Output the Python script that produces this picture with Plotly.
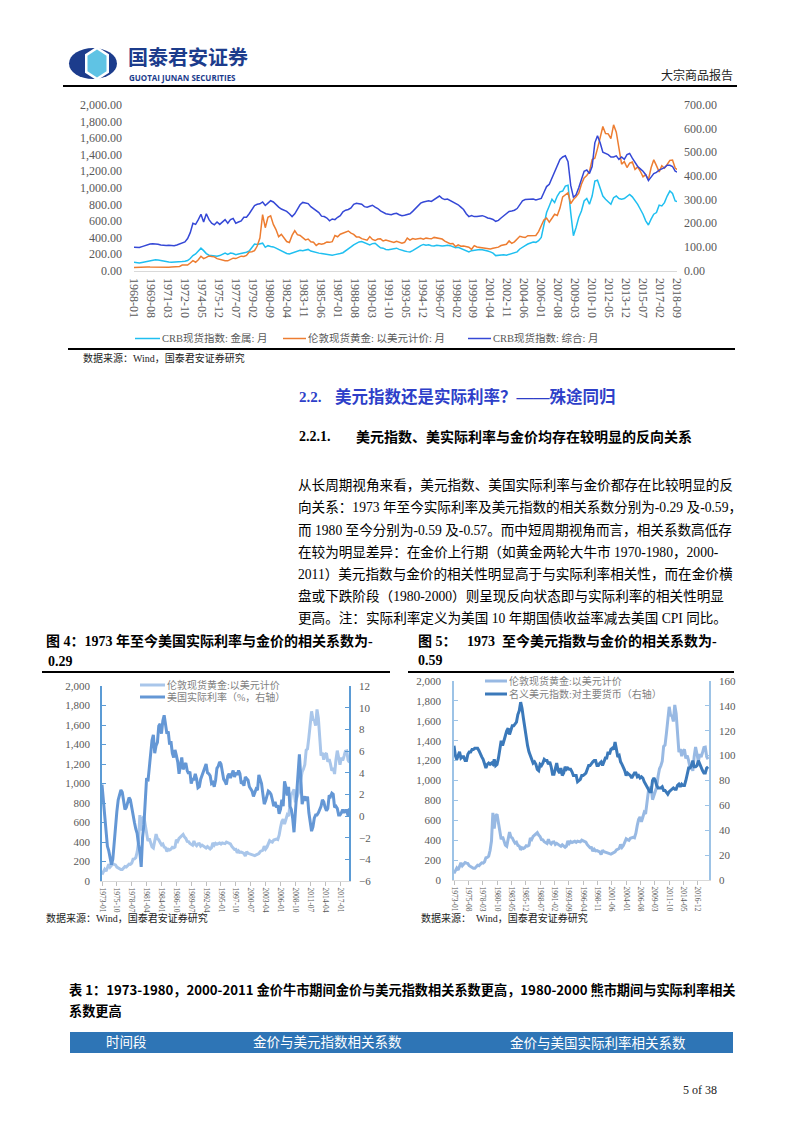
import plotly.graph_objects as go
import pandas as pd

W, H = 802, 1133
def px(x): return x / W
def py(y): return 1 - y / H

SERIF = "Liberation Serif, Noto Sans CJK SC, serif"
CJK = "Noto Sans CJK SC, sans-serif"

# ---------------- DATA (quarterly readings: Jan/Apr/Jul/Oct) ----------------
top_start = "1968-01-01"
gold_q = [
    35, 38, 39, 40,  42, 43, 41, 40,  35, 36, 36, 38,  38, 39, 41, 43,
    46, 49, 65, 64,  66, 91, 120, 100,  130, 172, 143, 158,  176, 170, 165, 143,
    132, 128, 117, 117,  133, 149, 144, 158,  173, 170, 183, 224,  227, 239, 296, 392,
    675, 517, 644, 660,  557, 495, 409, 436,  384, 350, 339, 424,  481, 433, 423, 394,
    370, 380, 348, 341,  303, 325, 317, 326,  345, 340, 348, 423,  408, 438, 450, 468,
    477, 452, 437, 406,  404, 385, 375, 367,  410, 375, 362, 380,  383, 357, 368, 357,
    354, 338, 353, 344,  329, 341, 392, 367,  386, 377, 385, 389,  379, 391, 386, 383,
    400, 393, 383, 380,  355, 344, 324, 325,  289, 309, 293, 296,  287, 282, 256, 300,
    284, 280, 281, 270,  265, 261, 268, 278,  282, 302, 314, 317,  357, 328, 347, 379,
    414, 404, 398, 420,  424, 429, 424, 470,  549, 610, 633, 585,  631, 679, 665, 754,
    889, 910, 940, 807,  858, 890, 934, 1043,  1118, 1148, 1193, 1342,  1356, 1473, 1620, 1740,
    1656, 1651, 1593, 1760,  1671, 1486, 1286, 1316,  1244, 1299, 1311, 1222,  1251, 1199, 1131, 1159,
    1097, 1242, 1337, 1267,  1192, 1266, 1236, 1281,  1331, 1335, 1238, 1215,
]
crb_metal_q = [
    100, 95, 92, 98,  105, 112, 118, 125,  130, 128, 120, 112,  105, 102, 100, 100,
    102, 105, 108, 112,  120, 145, 180, 200,  235, 270, 240, 205,  185, 180, 175, 172,
    180, 200, 210, 195,  210, 205, 190, 200,  205, 210, 220, 235,  280, 320, 315, 320,
    330, 280, 300, 290,  285, 270, 255, 240,  215, 205, 200, 210,  220, 235, 245, 240,
    250, 255, 235, 225,  215, 210, 205, 200,  195, 190, 185, 192,  195, 205, 215, 235,
    260, 285, 310, 330,  345, 350, 335, 320,  310, 325, 330, 300,  275, 270, 255, 250,
    255, 265, 270, 255,  240, 235, 228, 225,  240, 255, 280, 300,  315, 305, 310, 300,
    295, 305, 300, 295,  300, 305, 300, 290,  275, 280, 265, 255,  230, 225, 240, 245,
    255, 255, 250, 245,  235, 225, 210, 180,  185, 190, 190, 185,  195, 200, 210, 225,
    260, 285, 300, 320,  330, 345, 340, 360,  400, 560, 700, 780,  860, 820, 900, 950,
    960, 1020, 1030, 700,  420, 520, 640, 720,  840, 870, 800, 900,  1080, 1090, 1000, 900,
    860, 830, 800, 880,  900, 870, 860, 870,  900, 920, 890, 850,  800, 740, 680, 600,
    550, 620, 680, 700,  790, 780, 820, 900,  960, 930, 840, 830,
]
crb_comp_q = [
    98, 96, 97, 101,  105, 109, 112, 113,  113, 111, 108, 106,  106, 107, 106, 105,
    108, 112, 116, 121,  135, 160, 200, 195,  215, 238, 205, 240,  215, 200, 193, 205,
    195, 205, 215, 200,  215, 220, 200, 205,  210, 225, 225, 240,  260, 275, 280, 282,
    290, 275, 285, 295,  290, 278, 268, 260,  255, 250, 240, 228,  240, 258, 278, 288,
    285, 283, 270, 262,  255, 245, 230, 228,  222, 210, 218, 215,  225, 232, 248, 255,
    258, 265, 280, 284,  282, 280, 270, 268,  272, 276, 268, 262,  252, 245, 240, 238,
    236, 240, 242, 236,  232, 234, 238, 240,  250, 262, 272, 285,  290, 292, 295, 292,
    300, 310, 315, 305,  300, 302, 296, 290,  282, 278, 268, 258,  240, 228, 232, 228,
    228, 230, 232, 228,  222, 220, 216, 208,  212, 222, 230, 240,  250, 252, 255, 262,
    280, 295, 300, 300,  300, 302, 298, 300,  305, 330, 355, 365,  390, 420, 440, 470,
    480, 485, 460, 360,  310, 320, 350, 385,  420, 425, 410, 440,  540, 570, 540, 500,
    495, 490, 480, 480,  485, 470, 480, 470,  490, 495, 475, 455,  440, 430, 420, 405,
    380, 395, 410, 415,  425, 430, 435, 445,  445, 440, 420, 415,
]
top_ticks = ["1968-01", "1969-08", "1971-03", "1972-10", "1974-05", "1975-12", "1977-07",
             "1979-02", "1980-09", "1982-04", "1983-11", "1985-06", "1987-01", "1988-08",
             "1990-03", "1991-10", "1993-05", "1994-12", "1996-07", "1998-02", "1999-09",
             "2001-04", "2002-11", "2004-06", "2006-01", "2007-08", "2009-03", "2010-10",
             "2012-05", "2013-12", "2015-07", "2017-02", "2018-09"]

low_start = "1973-01-01"
gold_low = gold_q[20:]
real_rate_q = [
    2.9, 1.6, 0.0, -1.5,  -2.8, -3.2, -3.8, -4.5,  -4.0, -2.4, -1.2, 0.4,  1.5, 1.9, 2.4, 2.2,
    1.3, 0.6, 0.8, 1.3,  1.7, 1.5, 0.8, -0.2,  -0.6, -1.2, -1.6, -2.6,  -3.3, -4.7, -2.0, -0.8,
    1.5, 3.5, 3.2, 4.6,  5.8, 7.0, 7.5, 5.8,  6.5, 6.8, 8.3, 8.5,  7.6, 8.8, 9.3, 8.3,
    7.6, 7.8, 6.6, 6.9,  5.8, 5.4, 6.1, 5.6,  5.0, 3.9, 4.6, 5.4,  4.3, 4.6, 4.9, 4.2,
    3.9, 4.1, 3.0, 3.4,  3.4, 3.9, 3.4, 2.6,  2.7, 3.4, 3.8, 4.2,  4.6, 4.8, 4.0, 3.9,
    3.7, 3.0, 3.1, 2.7,  3.3, 4.4, 4.6, 5.0,  4.8, 4.1, 3.4, 3.2,  2.9, 3.7, 3.9, 3.5,
    3.8, 4.2, 3.6, 4.0,  3.8, 4.2, 3.9, 3.0,  3.1, 2.8, 3.6, 3.4,  3.3, 2.7, 2.5, 2.3,
    1.8, 2.1, 2.5, 2.4,  3.8, 3.4, 3.0, 2.0,  1.1, 1.4, 1.9, 2.3,  2.2, 2.0, 1.5, 0.9,
    1.3, 0.8, 1.0, 0.2,  0.6, 1.5, 0.9, 3.2,  2.7, 1.9, 2.7, 0.9,  0.6, -0.2, -1.5, 0.5,
    2.5, 3.6, 5.7, 3.5,  1.1, 1.6, 1.8, 1.4,  1.8, 0.3, -0.6, -1.4,  -1.0, -0.2, 0.1, 0.1,
    0.3, 0.6, 0.9, 1.5,  1.3, 0.8, 0.5, 0.7,  1.9, 1.8, 2.1, 2.0,  0.8, 0.9, 0.7, 0.1,
    0.1, 0.3, 0.6, 0.3,  0.5, 0.5, 0.0, 0.7,
]
usd_q = [
    108, 100, 97, 100,  103, 98, 99, 99,  96, 96, 101, 103,  103, 105, 105, 106,
    106, 106, 104, 101,  99, 97, 94, 90,  93, 94, 93, 94,  93, 97, 92, 93,
    98, 104, 112, 108,  113, 116, 120, 122,  117, 120, 124, 124,  126, 127, 133, 136,
    143, 138, 130, 122,  113, 108, 103, 100,  96, 94, 95, 93,  89, 88, 93, 92,
    94, 97, 96, 96,  93, 95, 91, 85,  85, 90, 94, 88,  86, 90, 84, 86,
    91, 89, 90, 89,  89, 87, 84, 84,  84, 79, 80, 81,  84, 84, 85, 86,
    89, 92, 92, 94,  95, 96, 96, 92,  92, 94, 95, 92,  95, 98, 98, 103,
    101, 105, 106, 105,  111, 106, 99, 100,  95, 93, 91, 88,  84, 86, 85, 84,
    82, 84, 86, 86,  83, 84, 82, 83,  82, 79, 77, 74,  72, 71, 71, 80,
    82, 80, 76, 74,  74, 74, 75, 72,  72, 70, 69, 71,  72, 73, 74, 73,
    73, 76, 77, 75,  77, 76, 76, 80,  86, 90, 90, 92,  96, 91, 91, 92,
    96, 93, 90, 88,  86, 86, 90, 91,
]
ticks4 = ["1973-01", "1975-10", "1978-07", "1981-04", "1984-01", "1986-10", "1989-07",
          "1992-04", "1995-01", "1997-10", "2000-07", "2003-04", "2006-01", "2008-10",
          "2011-07", "2014-04", "2017-01"]
ticks5 = ["1973-01", "1975-08", "1978-03", "1980-10", "1983-05", "1985-12", "1988-07",
          "1991-02", "1993-09", "1996-04", "1998-11", "2001-06", "2004-01", "2006-08",
          "2009-03", "2011-10", "2014-05", "2016-12"]

def qdates(start, vals):
    return pd.date_range(start, periods=len(vals), freq="3MS")

fig = go.Figure()

# ---------------- top chart ----------------
fig.add_trace(go.Scatter(x=qdates(top_start, crb_metal_q), y=crb_metal_q, mode="lines",
                         line=dict(color="#1fbff0", width=1.5), xaxis="x", yaxis="y"))
fig.add_trace(go.Scatter(x=qdates(top_start, gold_q), y=gold_q, mode="lines",
                         line=dict(color="#ed7d31", width=1.5), xaxis="x", yaxis="y"))
fig.add_trace(go.Scatter(x=qdates(top_start, crb_comp_q), y=crb_comp_q, mode="lines",
                         line=dict(color="#3548d6", width=1.5), xaxis="x", yaxis="y2"))

# ---------------- chart 4 ----------------
fig.add_trace(go.Scatter(x=qdates(low_start, gold_low), y=gold_low, mode="lines",
                         line=dict(color="#a9c6ea", width=3), xaxis="x2", yaxis="y3"))
fig.add_trace(go.Scatter(x=qdates(low_start, real_rate_q), y=real_rate_q, mode="lines",
                         line=dict(color="#6497d5", width=3), xaxis="x2", yaxis="y4"))

# ---------------- chart 5 ----------------
fig.add_trace(go.Scatter(x=qdates(low_start, gold_low), y=gold_low, mode="lines",
                         line=dict(color="#98b9e3", width=3), xaxis="x3", yaxis="y5"))
fig.add_trace(go.Scatter(x=qdates(low_start, usd_q), y=usd_q, mode="lines",
                         line=dict(color="#3b79ba", width=3), xaxis="x3", yaxis="y6"))

tick_font_top = dict(family=SERIF, size=12, color="#595959")
tick_font_low = dict(family=SERIF, size=11, color="#595959")
xtick_font_low = dict(family=SERIF, size=7.5, color="#595959")

fig.update_layout(
    width=W, height=H, margin=dict(l=0, r=0, t=0, b=0),
    paper_bgcolor="white", plot_bgcolor="rgba(0,0,0,0)", showlegend=False,
    xaxis=dict(domain=[px(134), px(677)], anchor="y", type="date",
               range=["1968-01-01", "2018-09-01"],
               tickvals=[t + "-01" for t in top_ticks], ticktext=top_ticks, tickangle=90,
               tickfont=tick_font_top, showline=True, linecolor="#d9d9d9", linewidth=1,
               ticks="", showgrid=False, zeroline=False, ticklabelstandoff=4, automargin=False),
    yaxis=dict(domain=[py(270.5), py(105)], anchor="x", range=[0, 2000],
               tickvals=list(range(0, 2001, 200)), tickformat=",.2f", tickfont=tick_font_top,
               showgrid=False, zeroline=False, showline=False, ticks="", ticklabelstandoff=11,
               automargin=False),
    yaxis2=dict(overlaying="y", side="right", anchor="x", range=[0, 700],
                tickvals=list(range(0, 701, 100)), tickformat=".2f", tickfont=tick_font_top,
                showgrid=False, zeroline=False, showline=False, ticks="", ticklabelstandoff=6,
                automargin=False),
    xaxis2=dict(domain=[px(102), px(349)], anchor="y3", type="date",
                range=["1973-01-01", "2018-09-01"],
                tickvals=[t + "-01" for t in ticks4], ticktext=ticks4, tickangle=90,
                tickfont=xtick_font_low, showline=True, linecolor="#d9d9d9", ticks="outside",
                ticklen=4, tickcolor="#bfbfbf", showgrid=False, zeroline=False,
                ticklabelstandoff=0, automargin=False),
    yaxis3=dict(domain=[py(881), py(686)], anchor="x2", range=[0, 2000],
                tickvals=list(range(0, 2001, 200)), tickformat=",d", tickfont=tick_font_low,
                showgrid=False, zeroline=False, showline=True, linecolor="#5b9bd5",
                linewidth=1.5, ticks="inside", ticklen=4, tickcolor="#5b9bd5",
                ticklabelstandoff=8, automargin=False),
    yaxis4=dict(overlaying="y3", side="right", anchor="x2", range=[-6, 12],
                tickvals=list(range(-6, 13, 2)), tickfont=tick_font_low,
                showgrid=False, zeroline=False, showline=True, linecolor="#5b9bd5",
                linewidth=1.5, ticks="inside", ticklen=4, tickcolor="#5b9bd5",
                ticklabelstandoff=6, automargin=False),
    xaxis3=dict(domain=[px(454), px(709)], anchor="y5", type="date",
                range=["1973-01-01", "2018-12-01"],
                tickvals=[t + "-01" for t in ticks5], ticktext=ticks5, tickangle=90,
                tickfont=xtick_font_low, showline=True, linecolor="#d9d9d9", ticks="outside",
                ticklen=4, tickcolor="#bfbfbf", showgrid=False, zeroline=False,
                ticklabelstandoff=0, automargin=False),
    yaxis5=dict(domain=[py(880), py(681)], anchor="x3", range=[0, 2000],
                tickvals=list(range(0, 2001, 200)), tickformat=",d", tickfont=tick_font_low,
                showgrid=False, zeroline=False, showline=True, linecolor="#9dc3e6",
                linewidth=1.5, ticks="inside", ticklen=4, tickcolor="#9dc3e6",
                ticklabelstandoff=9, automargin=False),
    yaxis6=dict(overlaying="y5", side="right", anchor="x3", range=[0, 160],
                tickvals=list(range(0, 161, 20)), tickfont=tick_font_low,
                showgrid=False, zeroline=False, showline=True, linecolor="#9dc3e6",
                linewidth=1.5, ticks="inside", ticklen=4, tickcolor="#9dc3e6",
                ticklabelstandoff=6, automargin=False),
)

shapes = []
annots = []

def hline(x0, x1, y, color="black", width=2):
    shapes.append(dict(type="line", xref="paper", yref="paper", x0=px(x0), x1=px(x1),
                       y0=py(y), y1=py(y), line=dict(color=color, width=width)))

def text(x, y, s, size=12, color="black", family=CJK, bold=False, anchor="left"):
    if bold:
        s = "<b>" + s + "</b>"
    annots.append(dict(xref="paper", yref="paper", x=px(x), y=py(y), text=s, showarrow=False,
                       xanchor=anchor, yanchor="middle", borderpad=0,
                       font=dict(size=size, color=color, family=family)))

# ---------------- header ----------------
NAVY = "#1c3c8c"
shapes.append(dict(type="circle", xref="paper", yref="paper", x0=px(69), x1=px(117),
                   y0=py(79), y1=py(48), fillcolor=NAVY, line=dict(width=0)))
def hexpath(cx, cy, w, h):
    pts = [(cx - w, cy - h * 0.55), (cx, cy - h), (cx + w, cy - h * 0.55),
           (cx + w, cy + h * 0.55), (cx, cy + h), (cx - w, cy + h * 0.55)]
    return "M " + " L ".join(f"{px(a):.5f},{py(b):.5f}" for a, b in pts) + " Z"
shapes.append(dict(type="path", xref="paper", yref="paper", path=hexpath(97, 63.5, 12, 17),
                   fillcolor="white", line=dict(width=0)))
shapes.append(dict(type="path", xref="paper", yref="paper", path=hexpath(97, 63.5, 9.5, 14),
                   fillcolor="#5fc3e4", line=dict(width=0)))
text(127, 57, "国泰君安证券", size=20, color=NAVY, bold=True)
text(128, 77.5, "GUOTAI JUNAN SECURITIES", size=8, color=NAVY, family="Open Sans, sans-serif", bold=True)
text(734, 74, "大宗商品报告", size=12, color="#222222", anchor="right")
hline(63, 737, 86, width=2)

# ---------------- top chart legend & source ----------------
leg_top = [(135, 160, "#1fbff0", "CRB现货指数: 金属: 月"),
           (283, 306, "#ed7d31", "伦敦现货黄金: 以美元计价: 月"),
           (468, 491, "#3548d6", "CRB现货指数: 综合: 月")]
for x0, x1, c, s in leg_top:
    hline(x0, x1, 338.5, color=c, width=1.5)
    text(x1 + 1, 338.5, s, size=10.5, color="#595959", family=SERIF)
hline(68, 735, 349, width=2)
text(82, 357.5, "数据来源：Wind，国泰君安证券研究", size=10, color="#222222", family=SERIF)

# ---------------- headings & paragraph ----------------
BLUE = "#2e3fc9"
text(298, 397, "2.2.", size=15, color=BLUE, family=SERIF, bold=True)
text(334, 397, "美元指数还是实际利率？——殊途同归", size=16.5, color=BLUE, family=SERIF, bold=True)
text(298, 437, "2.2.1.", size=14, color="black", family=SERIF, bold=True)
text(355, 437, "美元指数、美实际利率与金价均存在较明显的反向关系", size=14, color="black", family=SERIF, bold=True)

para = [
    "从长周期视角来看，美元指数、美国实际利率与金价都存在比较明显的反",
    "向关系：1973 年至今实际利率及美元指数的相关系数分别为-0.29 及-0.59，",
    "而 1980 至今分别为-0.59 及-0.57。而中短周期视角而言，相关系数高低存",
    "在较为明显差异：在金价上行期（如黄金两轮大牛市 1970-1980，2000-",
    "2011）美元指数与金价的相关性明显高于与实际利率相关性，而在金价横",
    "盘或下跌阶段（1980-2000）则呈现反向状态即与实际利率的相关性明显",
    "更高。注：实际利率定义为美国 10 年期国债收益率减去美国 CPI 同比。",
]
para_y = [485, 507, 530, 552, 574, 596, 618]
for s, y in zip(para, para_y):
    text(297, y, s, size=13.6, color="black", family=SERIF)

# ---------------- figure titles ----------------
text(45, 641, "图 4：1973 年至今美国实际利率与金价的相关系数为-", size=14, family=SERIF, bold=True)
text(47, 661, "0.29", size=14, family=SERIF, bold=True)
hline(42, 390, 672, width=2)
text(417, 641, "图 5：\u00a0\u00a0\u00a01973\u00a0 至今美元指数与金价的相关系数为-", size=14, family=SERIF, bold=True)
text(417, 660, "0.59", size=14, family=SERIF, bold=True)
hline(408, 734, 672, width=2)

# chart 4 legend
hline(140, 165, 685, color="#a9c6ea", width=3)
text(166, 685, "伦敦现货黄金:以美元计价", size=10, color="#7f7f7f", family=SERIF)
hline(140, 165, 697, color="#6497d5", width=3)
text(166, 697, "美国实际利率（%，右轴）", size=10, color="#7f7f7f", family=SERIF)
# chart 5 legend
hline(485, 507, 681, color="#98b9e3", width=3)
text(508, 681, "伦敦现货黄金:以美元计价", size=10, color="#7f7f7f", family=SERIF)
hline(485, 507, 694, color="#3b79ba", width=3)
text(508, 694, "名义美元指数:对主要货币（右轴）", size=10, color="#7f7f7f", family=SERIF)

text(45, 918, "数据来源：Wind，国泰君安证券研究", size=10, color="#222222", family=SERIF)
text(420, 918, "数据来源：\u00a0\u00a0Wind，国泰君安证券研究", size=10, color="#222222", family=SERIF)

# ---------------- table ----------------
text(68, 989, "表 1：1973-1980，2000-2011 金价牛市期间金价与美元指数相关系数更高，1980-2000 熊市期间与实际利率相关",
     size=13.2, family=CJK, bold=True, color="black")
text(68, 1011, "系数更高", size=13.2, family=CJK, bold=True, color="black")
shapes.append(dict(type="rect", xref="paper", yref="paper", x0=px(70), x1=px(733),
                   y0=py(1053), y1=py(1032), fillcolor="#2e75b6", line=dict(width=0)))
text(127, 1042.5, "时间段", size=13.5, color="white", family=SERIF, anchor="center")
text(327, 1042.5, "金价与美元指数相关系数", size=13.5, color="white", family=SERIF, anchor="center")
text(598, 1042.5, "金价与美国实际利率相关系数", size=13.5, color="white", family=SERIF, anchor="center")

text(700, 1090, "5 of 38", size=12, color="#222222", family=SERIF, anchor="center")

fig.update_layout(shapes=shapes, annotations=annots)
fig.write_html("out.html", config={"displayModeBar": False},
               post_script="document.body.style.margin='0';document.body.style.padding='0';"
                           "document.documentElement.style.overflow='hidden';")
